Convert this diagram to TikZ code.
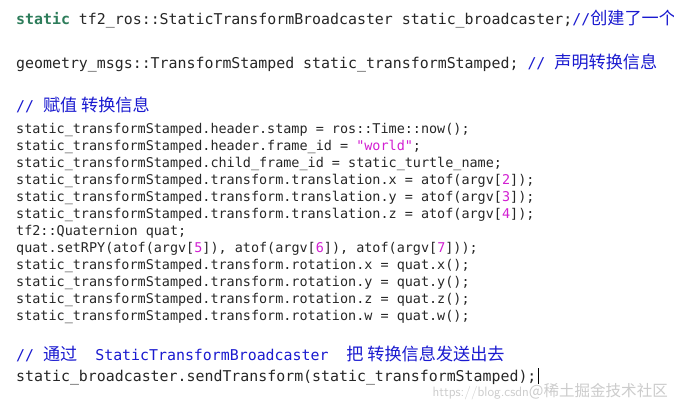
\documentclass[tikz,border=0pt]{standalone}
\usepackage{fontspec}
\usepackage{xcolor}
\setmonofont{DejaVu Sans Mono}
\newfontfamily\cjk[Scale=1.15]{Noto Sans CJK SC}
\definecolor{kwgreen}{HTML}{2E7D5B}
\definecolor{cmblue}{HTML}{1A1AD0}
\definecolor{strpink}{HTML}{D21FD2}
\newcommand{\kw}[1]{\textcolor{kwgreen}{\textbf{#1}}}
\newcommand{\cm}[1]{\textcolor{cmblue}{#1}}
\newcommand{\nm}[1]{\textcolor{strpink}{#1}}
\newcommand{\zh}[1]{{\cjk #1}}

\begin{document}
\begin{tikzpicture}[x=1pt,y=-1pt,
    code/.style={anchor=base west, inner sep=0pt, font=\ttfamily\fontsize{13.45}{15}\selectfont, text=black!85},
    big/.style={code, font=\ttfamily\fontsize{14.9}{17}\selectfont}]
        \useasboundingbox[fill=white] (0,0) rectangle (674,412);

        % Declarations
        \node[big] (l1) at (16,25) {\kw{static} tf2\_ros::StaticTransformBroadcaster static\_broadcaster;\cm{//\zh{创建了一个}}};
        \node[big] (l2) at (16,68) {geometry\_msgs::TransformStamped static\_transformStamped; \cm{// \zh{声明转换信息}}};

        % Assignment
        \node[big] (c1) at (16,111) {\cm{// \zh{赋值 转换信息}}};
        \node[code] (a1) at (16,133) {static\_transformStamped.header.stamp = ros::Time::now();};
        \node[code] (a2) at (16,150) {static\_transformStamped.header.frame\_id = \nm{"world"};};
        \node[code] (a3) at (16,167) {static\_transformStamped.child\_frame\_id = static\_turtle\_name;};
        \node[code] (a4) at (16,184) {static\_transformStamped.transform.translation.x = atof(argv[\nm{2}]);};
        \node[code] (a5) at (16,201) {static\_transformStamped.transform.translation.y = atof(argv[\nm{3}]);};
        \node[code] (a6) at (16,218) {static\_transformStamped.transform.translation.z = atof(argv[\nm{4}]);};
        \node[code] (a7) at (16,235) {tf2::Quaternion quat;};
        \node[code] (a8) at (16,252) {quat.setRPY(atof(argv[\nm{5}]), atof(argv[\nm{6}]), atof(argv[\nm{7}]));};
        \node[code] (a9) at (16,269) {static\_transformStamped.transform.rotation.x = quat.x();};
        \node[code] (a10) at (16,286) {static\_transformStamped.transform.rotation.y = quat.y();};
        \node[code] (a11) at (16,303) {static\_transformStamped.transform.rotation.z = quat.z();};
        \node[code] (a12) at (16,320) {static\_transformStamped.transform.rotation.w = quat.w();};

        % Send
        \node[big] (c2) at (16,360) {\cm{// \zh{通过}\ \ StaticTransformBroadcaster\ \ \zh{把 转换信息发送出去}}};
        \node[big] (s1) at (16,381) {static\_broadcaster.sendTransform(static\_transformStamped);};
        \draw[black, line width=0.6pt] ([xshift=1.5pt]s1.base east) ++(0,3) -- ++(0,-16);

        % Watermark
        \node[anchor=base east, inner sep=0pt, text=black!20, font=\sffamily\fontsize{13.5}{15}\selectfont] (wm) at (668,396) {https://blog.csdn\zh{@稀土掘金技术社区}};
    \end{tikzpicture}
\end{document}
